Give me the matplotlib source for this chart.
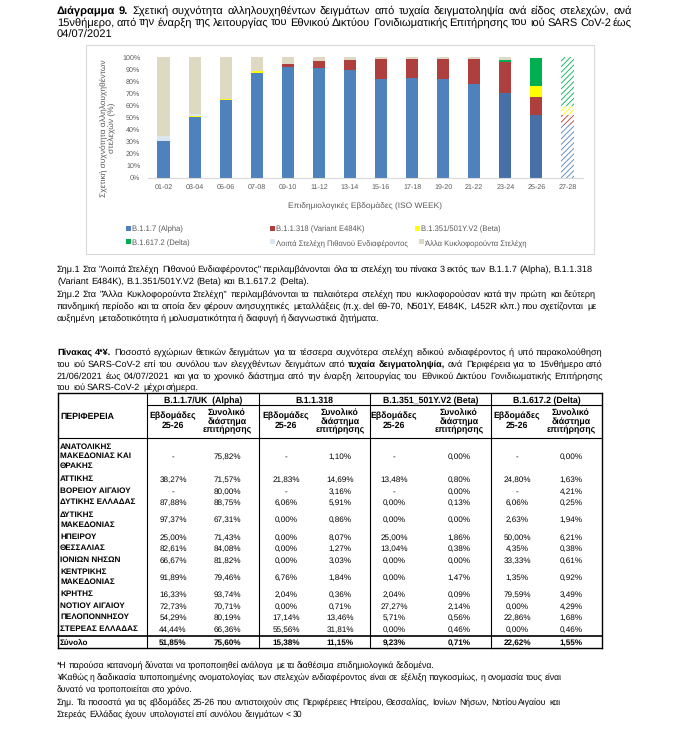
import matplotlib
matplotlib.use("Agg")
import matplotlib.pyplot as plt
import matplotlib.patches as mpatches
from matplotlib.lines import Line2D
import numpy as np

W, H = 675, 749

plt.rcParams["font.family"] = ["Liberation Sans", "DejaVu Sans"]
plt.rcParams["hatch.linewidth"] = 0.6
plt.rcParams["text.hinting"] = "no_hinting"

# ── Chart data (% of sequenced samples per 2-week period) ─────────────────────
WEEKS = ["01-02", "03-04", "05-06", "07-08", "09-10", "11-12", "13-14",
         "15-16", "17-18", "19-20", "21-22", "23-24", "25-26", "27-28"]
ALPHA = [30.2, 50.4, 64.5, 87.0, 91.7, 91.1, 89.2, 82.0, 82.8, 81.7, 77.8, 70.6, 51.85, 43.5]
E484K = [0, 0, 0, 0, 3.0, 6.1, 8.9, 16.6, 15.5, 16.6, 20.8, 25.5, 15.38, 8.3]
BETA = [0, 0.8, 1.1, 1.4, 0, 0, 0, 0, 0, 0, 0, 0, 9.23, 7.5]
DELTA = [0, 0, 0, 0, 0, 0, 0, 0, 0, 0, 0, 1.7, 22.62, 40.7]
OTHER_VOI = [4.4, 1.7, 0, 0, 0, 0, 0, 0, 0, 0, 0, 0, 0, 0]
OTHER_CIRC = [65.4, 47.1, 34.4, 11.6, 5.3, 2.8, 1.9, 1.4, 1.7, 1.7, 1.4, 2.2, 0, 0]

SERIES = [
    (ALPHA, "#4F81BD", "B.1.1.7 (Alpha)"),
    (E484K, "#AE3F3C", "B.1.1.318 (Variant E484K)"),
    (BETA, "#FFFF00", "B.1.351/501Y.V2 (Beta)"),
    (DELTA, "#00B050", "B.1.617.2 (Delta)"),
    (OTHER_VOI, "#DCE6F2", "Λοιπά Στελέχη Πιθανού Ενδιαφέροντος"),
    (OTHER_CIRC, "#DDD9C3", "Άλλα Κυκλοφορούντα Στελέχη"),
]

# ── Table data ────────────────────────────────────────────────────────────────
REGIONS = ["ΑΝΑΤΟΛΙΚΗΣ\nΜΑΚΕΔΟΝΙΑΣ ΚΑΙ\nΘΡΑΚΗΣ", "ΑΤΤΙΚΗΣ", "ΒΟΡΕΙΟΥ ΑΙΓΑΙΟΥ",
           "ΔΥΤΙΚΗΣ ΕΛΛΑΔΑΣ", "ΔΥΤΙΚΗΣ\nΜΑΚΕΔΟΝΙΑΣ", "ΗΠΕΙΡΟΥ", "ΘΕΣΣΑΛΙΑΣ",
           "ΙΟΝΙΩΝ ΝΗΣΩΝ", "ΚΕΝΤΡΙΚΗΣ\nΜΑΚΕΔΟΝΙΑΣ", "ΚΡΗΤΗΣ", "ΝΟΤΙΟΥ ΑΙΓΑΙΟΥ",
           "ΠΕΛΟΠΟΝΝΗΣΟΥ", "ΣΤΕΡΕΑΣ ΕΛΛΑΔΑΣ"]
ALPHA_2526 = ["-", "38,27%", "-", "87,88%", "97,37%", "25,00%", "82,61%", "66,67%", "91,89%", "16,33%", "72,73%", "54,29%", "44,44%"]
ALPHA_TOT = ["75,82%", "71,57%", "80,00%", "88,75%", "67,31%", "71,43%", "84,08%", "81,82%", "79,46%", "93,74%", "70,71%", "80,19%", "66,36%"]
E484K_2526 = ["-", "21,83%", "-", "6,06%", "0,00%", "0,00%", "0,00%", "0,00%", "6,76%", "2,04%", "0,00%", "17,14%", "55,56%"]
E484K_TOT = ["1,10%", "14,69%", "3,16%", "5,91%", "0,86%", "8,07%", "1,27%", "3,03%", "1,84%", "0,36%", "0,71%", "13,46%", "31,81%"]
BETA_2526 = ["-", "13,48%", "-", "0,00%", "0,00%", "25,00%", "13,04%", "0,00%", "0,00%", "2,04%", "27,27%", "5,71%", "0,00%"]
BETA_TOT = ["0,00%", "0,80%", "0,00%", "0,13%", "0,00%", "1,86%", "0,38%", "0,00%", "1,47%", "0,09%", "2,14%", "0,56%", "0,46%"]
DELTA_2526 = ["-", "24,80%", "-", "6,06%", "2,63%", "50,00%", "4,35%", "33,33%", "1,35%", "79,59%", "0,00%", "22,86%", "0,00%"]
DELTA_TOT = ["0,00%", "1,63%", "4,21%", "0,25%", "1,94%", "6,21%", "0,38%", "0,61%", "0,92%", "3,49%", "4,29%", "1,68%", "0,46%"]
TOTALS = ["51,85%", "75,60%", "15,38%", "11,15%", "9,23%", "0,71%", "22,62%", "1,55%"]
STRAINS = ["B.1.1.7/UK  (Alpha)", "B.1.1.318", "B.1.351_501Y.V2 (Beta)", "B.1.617.2 (Delta)"]

TITLE = ["§Διάγραμμα §9. Σχετική συχνότητα αλληλουχηθέντων δειγμάτων από τυχαία "
         "δειγματοληψία ανά είδος στελεχών, ανά",
         "15νθήμερο, από την έναρξη της λειτουργίας του Εθνικού Δικτύου "
         "Γονιδιωματικής Επιτήρησης του ιού SARS CoV-2 έως",
         "04/07/2021"]
NOTES = ['Σημ.1 Στα "Λοιπά Στελέχη Πιθανού Ενδιαφέροντος" περιλαμβάνονται όλα τα '
         'στελέχη του πίνακα 3 εκτός των B.1.1.7 (Alpha), B.1.1.318',
         "(Variant E484K), B.1.351/501Y.V2 (Beta) και B.1.617.2 (Delta).",
         'Σημ.2 Στα "Άλλα Κυκλοφορούντα Στελέχη" περιλαμβάνονται τα παλαιότερα στελέχη '
         'που κυκλοφορούσαν κατά την πρώτη και δεύτερη',
         "πανδημική περίοδο και τα οποία δεν φέρουν ανησυχητικές μεταλλάξεις (π.χ. del "
         "69-70, N501Y, E484K, L452R κλπ.) που σχετίζονται με",
         "αυξημένη μεταδοτικότητα ή μολυσματικότητα ή διαφυγή ή διαγνωστικά ζητήματα."]
CAPTION = ["§Πίνακας §4*¥. Ποσοστό εγχώριων θετικών δειγμάτων για τα τέσσερα συχνότερα "
           "στελέχη ειδικού ενδιαφέροντος ή υπό παρακολούθηση",
           "του ιού SARS-CoV-2 επί του συνόλου των ελεγχθέντων δειγμάτων από §τυχαία "
           "§δειγματοληψία, ανά Περιφέρεια για το 15νθήμερο από",
           "21/06/2021 έως 04/07/2021 και για το χρονικό διάστημα από την έναρξη "
           "λειτουργίας του Εθνικού Δικτύου Γονιδιωματικής Επιτήρησης",
           "του ιού SARS-CoV-2 μέχρι σήμερα."]
FOOTNOTES = ["*Η παρούσα κατανομή δύναται να τροποποιηθεί ανάλογα με τα διαθέσιμα "
             "επιδημιολογικά δεδομένα.",
             "¥Καθώς η διαδικασία τυποποιημένης ονοματολογίας των στελεχών "
             "ενδιαφέροντος είναι σε εξέλιξη παγκοσμίως, η ονομασία τους είναι",
             "δυνατό να τροποποιείται στο χρόνο.",
             "Σημ. Τα ποσοστά για τις εβδομάδες 25-26 που αντιστοιχούν στις Περιφέρειες "
             "Ηπείρου, Θεσσαλίας, Ιονίων Νήσων, Νοτίου Αιγαίου και",
             "Στερεάς Ελλάδας έχουν υπολογιστεί επί συνόλου δειγμάτων < 30"]

fig = plt.figure(figsize=(W / 100, H / 100), dpi=100)
fig.patch.set_facecolor("white")
R = fig.canvas.get_renderer()


def fx(x):
    return x / W


def fy(y):
    return 1 - y / H


def txt(x, y, s, size=7, bold=False, ha="left", va="center_baseline", color="black", **kw):
    return fig.text(fx(x), fy(y), s, fontsize=size, ha=ha, va=va, color=color,
                    fontweight="bold" if bold else "normal", **kw)


def words_of(x0, y, s, size):
    # y is the visual middle of the line; words sit on a common baseline
    base = round(y + size * 100 / 72 * 0.35)
    arts = [txt(x0, base, w.lstrip("§"), size=size, bold=w.startswith("§"), va="baseline")
            for w in s.split(" ")]
    return arts, [a.get_window_extent(R).width for a in arts]


def fit_size(x0, lines, rights, size):
    # largest size <= size at which every justified line fits with ~normal spaces
    for s, x1 in zip(lines, rights):
        if x1 is None:
            continue
        while size > 4:
            arts, ws = words_of(x0, 0, s, size)
            for a in arts:
                a.remove()
            if sum(ws) + 0.85 * size * 100 / 72 * 0.25 * (len(ws) - 1) <= x1 - x0:
                break
            size -= 0.05
    return size


def para(x0, ys, lines, rights, size):
    # block of lines; words prefixed with § are bold; lines with a right edge are justified
    size = fit_size(x0, lines, rights, size)
    for y, s, x1 in zip(ys, lines, rights):
        arts, ws = words_of(x0, y, s, size)
        gap = size * 100 / 72 * 0.25
        if x1 is not None and len(arts) > 1:
            gap = (x1 - x0 - sum(ws)) / (len(arts) - 1)
        x = x0
        for a, w in zip(arts, ws):
            a.set_x(fx(round(x)))
            x += w + gap


def hline(x0, x1, y, lw=0.8, color="black"):
    fig.add_artist(Line2D([fx(x0), fx(x1)], [fy(y), fy(y)], lw=lw, color=color))


def vline(x, y0, y1, lw=0.8, color="black"):
    fig.add_artist(Line2D([fx(x), fx(x)], [fy(y0), fy(y1)], lw=lw, color=color))


# ── Title ─────────────────────────────────────────────────────────────────────
para(57, [10, 22, 34], TITLE, [632, 632, None], 8.6)

# ── Chart ─────────────────────────────────────────────────────────────────────
fig.add_artist(mpatches.Rectangle((fx(86), fy(254)), (594 - 86) / W, (254 - 45) / H,
                                  fill=False, edgecolor="#D9D9D9", lw=0.8))
ax = fig.add_axes([fx(148), fy(177.7), (583 - 148) / W, 120.4 / H])
xpos = np.arange(len(WEEKS))
bottom = np.zeros(len(WEEKS))
for k, (vals, color, label) in enumerate(SERIES):
    bars = ax.bar(xpos, vals, bottom=bottom, width=0.39, color=color, lw=0, zorder=2)
    if k == 0:
        for b in bars[-3:-1]:  # the two latest blue segments are a darker shade
            b.set_facecolor("#4870A8")
    last = bars[-1]  # 27-28 still provisional -> hatched
    last.set_facecolor("white")
    last.set_edgecolor(color)
    last.set_hatch("//////")
    bottom += np.array(vals)

ax.set_xlim(-0.5, len(WEEKS) - 0.5)
ax.set_ylim(0, 100)
ax.set_yticks(range(0, 101, 10))
ax.set_yticklabels([f"{v}%" for v in range(0, 101, 10)])
ax.set_xticks(xpos)
ax.set_xticklabels(WEEKS)
ax.tick_params(length=0, labelsize=5.1, colors="#595959")
ax.tick_params(axis="y", pad=5.5)
ax.tick_params(axis="x", pad=4.5)
for s in ["top", "right", "left"]:
    ax.spines[s].set_visible(False)
ax.spines["bottom"].set_color("#D9D9D9")
ax.spines["bottom"].set_linewidth(0.8)

txt(107, 128, "Σχετική συχνότητα αλληλουχηθέντων\nστελεχών (%)", size=6, va="center",
    ha="center", color="#595959", rotation=90, multialignment="center", linespacing=1.15)
txt(365.5, 204, "Επιδημιολογικές Εβδομάδες (ISO WEEK)", size=6, ha="center", color="#595959")

leg_pos = [(126, 228.5), (270, 228.5), (415, 228.5), (126, 242), (270, 242), (419, 242)]
for (vals, color, label), (lx, ly) in zip(SERIES, leg_pos):
    fig.add_artist(mpatches.Rectangle((fx(lx), fy(ly + 2.5)), 5 / W, 5 / H,
                                      facecolor=color, lw=0))
    txt(lx + 6, ly, label, size=5.5, color="#595959")

# ── Notes ─────────────────────────────────────────────────────────────────────
para(57, [269, 281, 294, 306, 318], NOTES, [592, None, 596, 596, None], 6.6)

# ── Table caption ─────────────────────────────────────────────────────────────
para(57, [352, 364, 376, 387], CAPTION, [603, 603, 603, None], 6.6)

# ── Table ─────────────────────────────────────────────────────────────────────
T_LEFT, T_RIGHT, T_TOP = 57.5, 602, 393
GROUPS = [147, 259, 370, 491, T_RIGHT]
SUBCOLS = [173, 227, 286, 340, 394, 459, 517, 571]
HDR_LINE, HDR_BOT = 405, 438
ROW = 11.5
TS = 5.9
TH = 6.3

for g in range(4):
    txt((GROUPS[g] + GROUPS[g + 1]) / 2, 399.5, STRAINS[g], size=TH, bold=True, ha="center")
    txt(SUBCOLS[2 * g], 421, "Εβδομάδες\n25-26", size=TH, bold=True, ha="center",
        va="center", multialignment="center", linespacing=1.25)
    txt(SUBCOLS[2 * g + 1], 421.5, "Συνολικό\nδιάστημα\nεπιτήρησης", size=TH, bold=True,
        ha="center", va="center", multialignment="center", linespacing=1.0)
txt(60, 415.5, "ΠΕΡΙΦΕΡΕΙΑ", size=TH, bold=True)

columns = [ALPHA_2526, ALPHA_TOT, E484K_2526, E484K_TOT,
           BETA_2526, BETA_TOT, DELTA_2526, DELTA_TOT]
y = HDR_BOT + 1
for i, name in enumerate(REGIONS):
    n = name.count("\n") + 1
    yc = y + n * ROW / 2
    txt(60, yc, name, size=TS, bold=True, va="center", linespacing=1.4)
    for c, col in enumerate(columns):
        txt(SUBCOLS[c], yc, col[i], size=TS, ha="center")
    y += n * ROW
TOT_LINE = y + 1.5
T_BOT = TOT_LINE + 12
txt(60, (TOT_LINE + T_BOT) / 2, "Σύνολο", size=TS, bold=True)
for c, v in enumerate(TOTALS):
    txt(SUBCOLS[c], (TOT_LINE + T_BOT) / 2, v, size=TS, bold=True, ha="center")

hline(T_LEFT, T_RIGHT, T_TOP, lw=1.0)
hline(GROUPS[0], T_RIGHT, HDR_LINE)
hline(T_LEFT, T_RIGHT, HDR_BOT)
hline(T_LEFT, T_RIGHT, TOT_LINE, lw=1.2)
hline(T_LEFT, T_RIGHT, T_BOT, lw=1.0)
vline(T_LEFT, T_TOP, T_BOT, lw=1.0)
vline(T_RIGHT, T_TOP, T_BOT, lw=1.0)
for gx in GROUPS[:-1]:
    vline(gx, T_TOP, T_BOT)

# ── Footnotes ─────────────────────────────────────────────────────────────────
fb = T_BOT + 17
para(57, [fb, fb + 12, fb + 24, fb + 37, fb + 49], FOOTNOTES, [None] * 5, 6.2)

fig.savefig("out.png", dpi=100, facecolor="white")
